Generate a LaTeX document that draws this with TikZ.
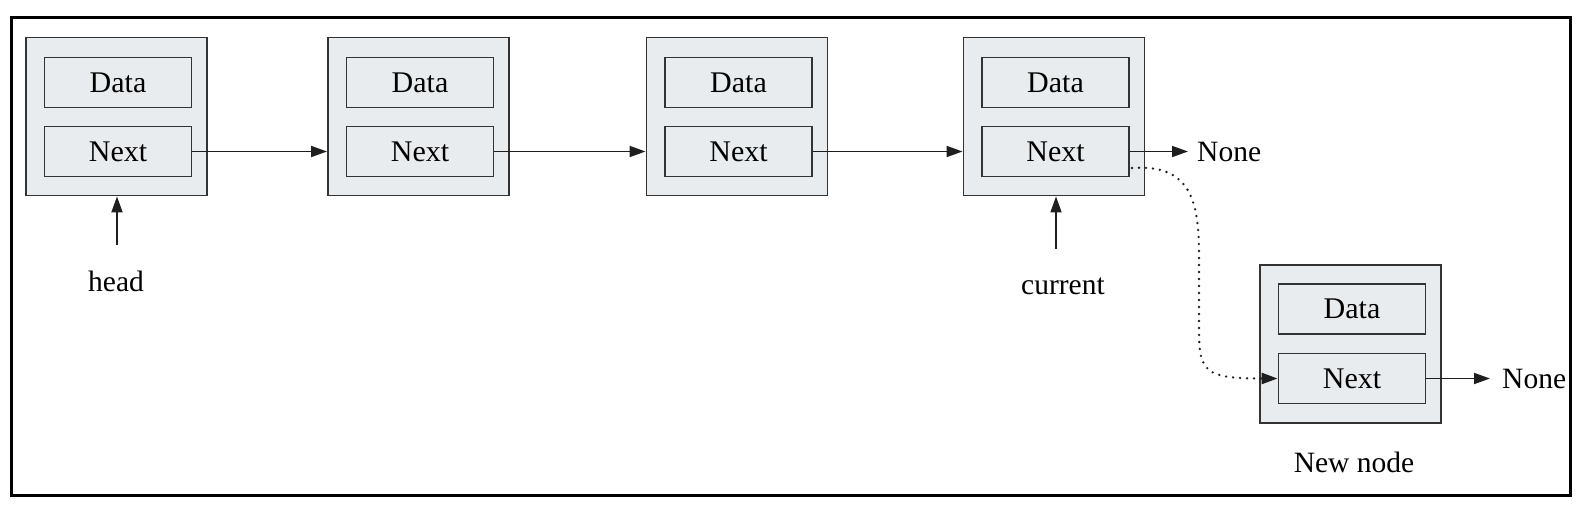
\documentclass[tikz,border=0pt]{standalone}
\usepackage{fontspec}
\setmainfont{Liberation Serif}
\usetikzlibrary{arrows.meta,calc}
\definecolor{boxfill}{HTML}{E9ECEE}
\definecolor{boxline}{HTML}{333333}
\definecolor{lnk}{HTML}{1E1E1E}
\begin{document}
\begin{tikzpicture}[x=1pt,y=-1pt,
  outerbox/.style={draw=boxline, fill=boxfill, line width=1.9pt, minimum width=181pt, minimum height=158pt, inner sep=0pt},
  field/.style={draw=boxline, fill=boxfill, line width=1.9pt, minimum width=147pt, minimum height=50pt, inner sep=0pt, font=\fontsize{30}{36}\selectfont},
  lbl/.style={inner sep=0pt, font=\fontsize{29.5}{35}\selectfont},
  arr/.style={draw=lnk, line width=1.8pt, -{Triangle[length=16pt,width=11pt]}},
  dotarr/.style={draw=lnk, line width=2.6pt, line cap=round, dash pattern=on 0pt off 7pt, -{Triangle[length=16pt,width=11pt]}}
]
\useasboundingbox (0,0) rectangle (1587,518);
\draw[line width=3pt, black] (11.5,17.5) rectangle (1570.5,495);

% node 1
\node[outerbox] (n1) at (116.5,116.5) {};
\node[field] (n1d) at (118,82.5) {Data};
\node[field] (n1n) at (118,151.5) {Next};
% node 2
\node[outerbox] (n2) at (418.5,116.5) {};
\node[field] (n2d) at (420,82.5) {Data};
\node[field] (n2n) at (420,151.5) {Next};
% node 3
\node[outerbox] (n3) at (737,116.5) {};
\node[field] (n3d) at (738.5,82.5) {Data};
\node[field] (n3n) at (738.5,151.5) {Next};
% node 4
\node[outerbox] (n4) at (1054,116.5) {};
\node[field] (n4d) at (1055.5,82.5) {Data};
\node[field] (n4n) at (1055.5,151.5) {Next};
% new node
\node[outerbox] (n5) at (1350.5,344) {};
\node[field] (n5d) at (1352,309) {Data};
\node[field] (n5n) at (1352,378.5) {Next};

% labels
\node[lbl, anchor=base] (head) at (116,292) {head};
\node[lbl, anchor=base] (cur) at (1063,295) {current};
\node[lbl, anchor=base] (newlbl) at (1354,472) {New node};
\node[lbl, anchor=west, inner xsep=9pt] (none1) at (1188,151.5) {None};
\node[lbl, anchor=west, inner xsep=12pt] (none2) at (1490,378.5) {None};

% links
\draw[arr] (n1n.east) -- (n1n.east -| n2.west);
\draw[arr] (n2n.east) -- (n2n.east -| n3.west);
\draw[arr] (n3n.east) -- (n3n.east -| n4.west);
\draw[arr] (n4n.east) -- (none1.west);
\draw[arr] (n5n.east) -- (none2.west);

% pointers
\coordinate (headtail) at (117,245);
\coordinate (curtail) at (1056,249);
\draw[arr] (headtail) -- (headtail |- n1.south);
\draw[arr] (curtail) -- (curtail |- n4.south);

% dotted link to new node
\coordinate (dstart) at (1132,168);
\draw[dotarr] (dstart) .. controls (1190,164) and (1199,200) .. (1199,255) -- (1199,330) .. controls (1199,372) and (1205,378.5) .. (n5n.west);
\end{tikzpicture}
\end{document}
